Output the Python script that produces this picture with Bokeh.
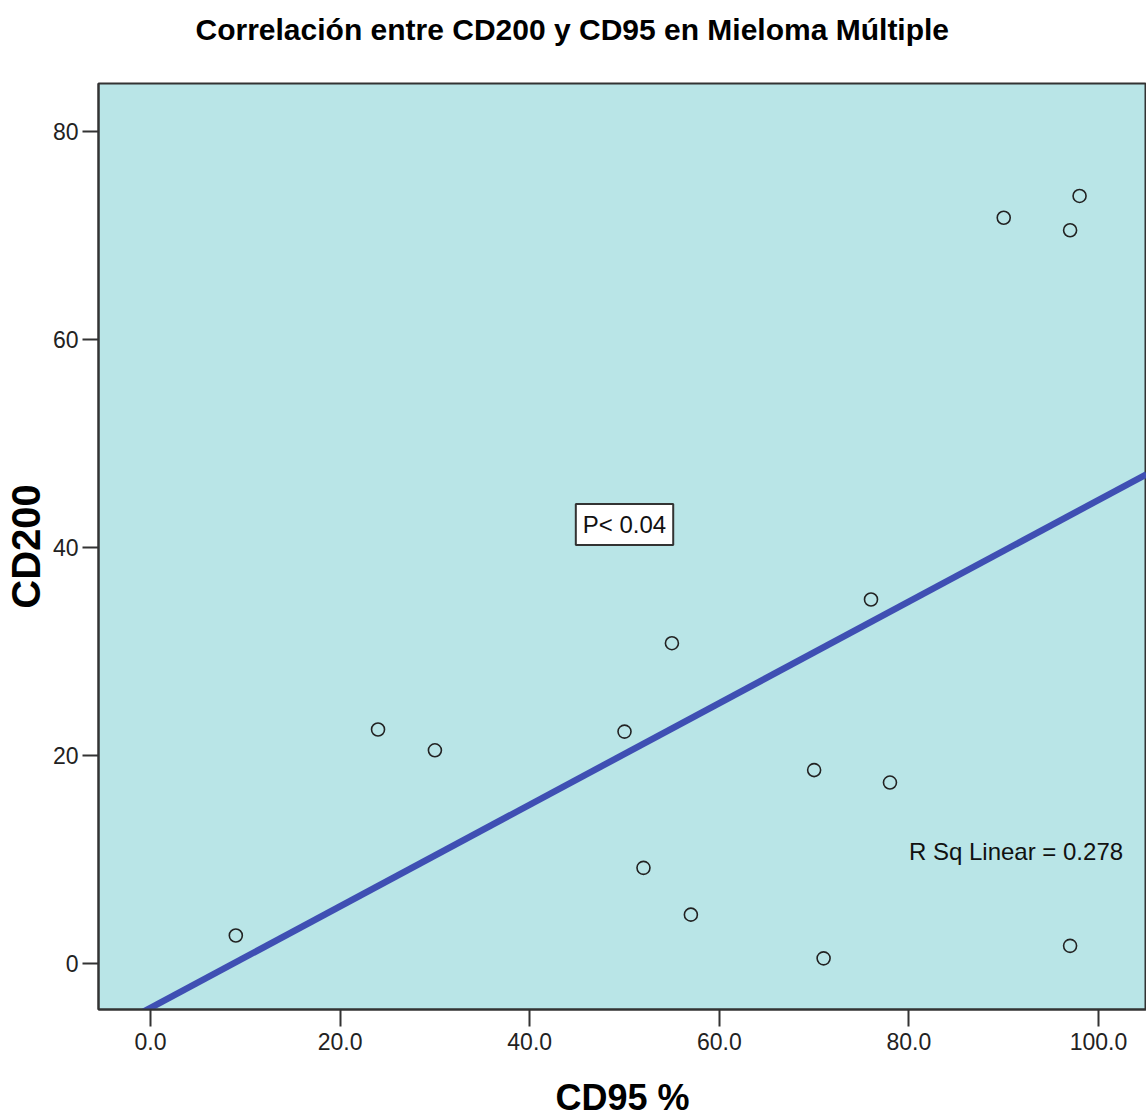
import numpy as np
from bokeh.plotting import figure
from bokeh.models import Range1d, Label, FixedTicker, NumeralTickFormatter
from bokeh.embed import file_html
from bokeh.resources import INLINE

# ---- data ----
cd95 = [9, 24, 30, 50, 52, 55, 57, 70, 71, 76, 78, 90, 97, 98, 97]
cd200 = [2.7, 22.5, 20.5, 22.3, 9.2, 30.8, 4.7, 18.6, 0.5, 35.0, 17.4, 71.7, 70.5, 73.8, 1.7]
x_ticks = [0, 20, 40, 60, 80, 100]
y_ticks = [0, 20, 40, 60, 80]
title_text = "Correlación entre CD200 y CD95 en Mieloma Múltiple"
x_label = "CD95 %"
y_label = "CD200"
p_text = "P< 0.04"
r2_text = "R Sq Linear = 0.278"

SANS = "Liberation Sans"
BG = "#B9E5E7"
DARK = "#333333"

x_start, x_end = -5.485, 105.06
y_start, y_end = -4.418, 84.61

p = figure(width=1146, height=1120, output_backend="svg", toolbar_location=None,
           x_range=Range1d(x_start, x_end), y_range=Range1d(y_start, y_end),
           min_border_left=98, min_border_right=0, min_border_top=83, min_border_bottom=110)

p.background_fill_color = BG
p.border_fill_color = "white"
p.outline_line_color = DARK
p.outline_line_width = 2
p.xgrid.visible = False
p.ygrid.visible = False

# title (a trailing empty line lifts it away from the frame)
p.title.text = title_text + "\n"
p.title.align = "left"
p.title.offset = 97
p.title.standoff = 10
p.title.text_font = SANS
p.title.text_font_size = "30px"
p.title.text_font_style = "bold"
p.title.text_color = "black"

# axes
for ax in (p.xaxis[0], p.yaxis[0]):
    ax.axis_line_color = DARK
    ax.axis_line_width = 2
    ax.major_tick_line_color = DARK
    ax.major_tick_line_width = 2
    ax.major_tick_in = 0
    ax.minor_tick_line_color = None
    ax.major_label_text_font = SANS
    ax.major_label_text_font_size = "23px"
    ax.major_label_text_color = "#222222"
    ax.axis_label_text_font = SANS
    ax.axis_label_text_font_style = "bold"
    ax.axis_label_text_color = "black"

p.xaxis[0].ticker = FixedTicker(ticks=x_ticks)
p.xaxis[0].formatter = NumeralTickFormatter(format="0.0")
p.xaxis[0].major_tick_out = 17
p.xaxis[0].major_label_standoff = 6
p.xaxis[0].axis_label = x_label
p.xaxis[0].axis_label_text_font_size = "36px"
p.xaxis[0].axis_label_standoff = 24

p.yaxis[0].ticker = FixedTicker(ticks=y_ticks)
p.yaxis[0].formatter = NumeralTickFormatter(format="0")
p.yaxis[0].major_tick_out = 16
p.yaxis[0].major_label_standoff = 4
p.yaxis[0].major_label_orientation = "horizontal"
p.yaxis[0].axis_label = y_label
p.yaxis[0].axis_label_text_font_size = "40px"
p.yaxis[0].axis_label_standoff = 2

# linear fit
slope, intercept = np.polyfit(np.array(cd95, dtype=float), np.array(cd200, dtype=float), 1)
fx = np.array([x_start, x_end])
p.line(fx, intercept + slope * fx, line_color="#3F4FB3", line_width=6.5)

# points
p.scatter(cd95, cd200, marker="circle", size=13, fill_color=None,
          line_color="#222222", line_width=1.6)

# annotations
p.add_layout(Label(x=50, y=42.2, text=p_text, text_align="center", text_baseline="middle",
                   text_font=SANS, text_font_size="24px", text_color="#111111",
                   background_fill_color="white", border_line_color=DARK,
                   border_line_width=2, padding=7))
p.add_layout(Label(x=80, y=10.8, text=r2_text, text_align="left", text_baseline="middle",
                   text_font=SANS, text_font_size="24px", text_color="#111111"))

open("out.html", "w").write(file_html(p, INLINE))
